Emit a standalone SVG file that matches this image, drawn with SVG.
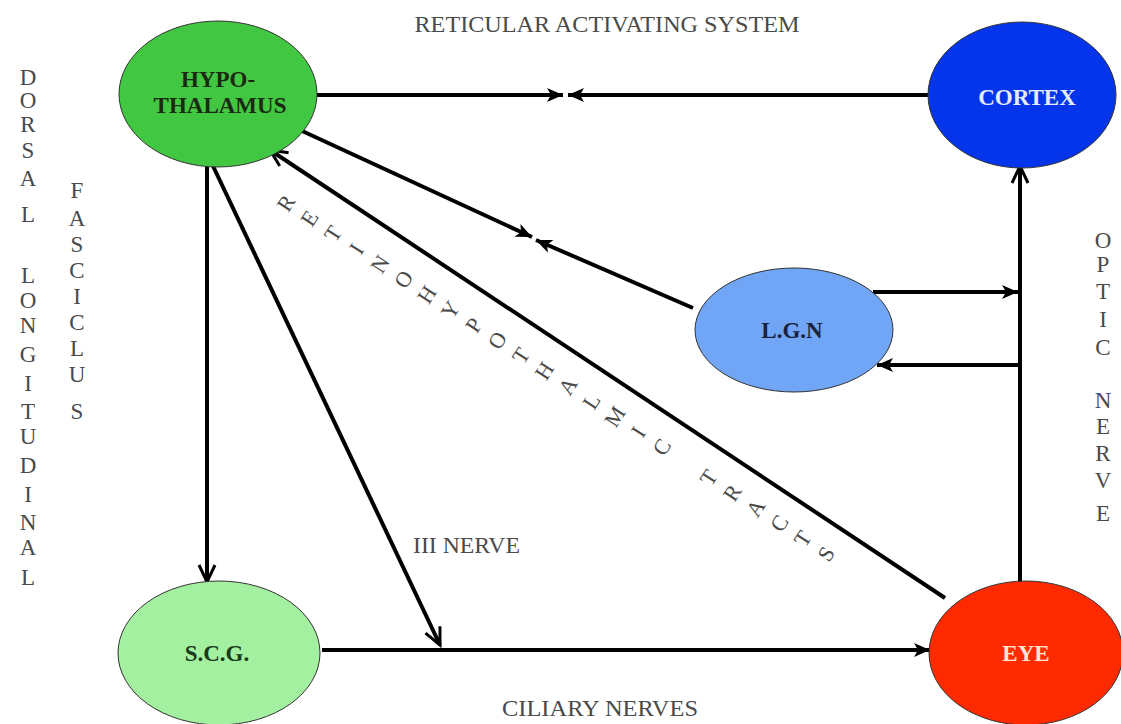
<svg xmlns="http://www.w3.org/2000/svg" width="1121" height="724" viewBox="0 0 1121 724">
<style>
.lbl{font-family:"Liberation Serif",serif;font-size:23px;fill:#4a4a4a;}
.node{font-family:"Liberation Serif",serif;font-size:23px;font-weight:bold;text-anchor:middle;}
.c{stroke:#000;stroke-width:4;fill:none;}
.ell{stroke:#333;stroke-width:1;}
</style>
<defs>
<marker id="fa" markerUnits="userSpaceOnUse" markerWidth="18" markerHeight="16" refX="16" refY="8" orient="auto">
<path d="M0,1 L16,8 L0,15 L4,8 z" fill="#000"/>
</marker>
<marker id="oa" markerUnits="userSpaceOnUse" markerWidth="22" markerHeight="20" refX="19" refY="10" orient="auto">
<path d="M2,2 L19,10 L2,18" fill="none" stroke="#000" stroke-width="3"/>
</marker>
</defs>
<rect width="1121" height="724" fill="#fff"/>

<g id="connectors">
<line class="c" x1="317" y1="95" x2="563" y2="95" marker-end="url(#fa)"/>
<line class="c" x1="928" y1="95" x2="568" y2="95" marker-end="url(#fa)"/>
<line class="c" x1="300" y1="130" x2="532" y2="237" marker-end="url(#fa)"/>
<line class="c" x1="693" y1="308" x2="536" y2="240" marker-end="url(#fa)"/>
<line class="c" x1="945" y1="598" x2="270" y2="150" marker-end="url(#oa)"/>
<line class="c" x1="207" y1="166" x2="207" y2="582" marker-end="url(#oa)"/>
<line class="c" x1="213" y1="166" x2="440" y2="645" marker-end="url(#oa)"/>
<line class="c" x1="322" y1="650" x2="930" y2="650" marker-end="url(#fa)"/>
<line class="c" x1="1020" y1="582" x2="1020" y2="166" marker-end="url(#oa)"/>
<line class="c" x1="873" y1="292" x2="1018" y2="292" marker-end="url(#fa)"/>
<line class="c" x1="1020" y1="365" x2="877" y2="365" marker-end="url(#fa)"/>
</g>

<g id="hypothalamus">
<ellipse class="ell" cx="218" cy="94" rx="99" ry="73" fill="#42c742"/>
<text class="node" x="218" y="87" fill="#1a2a10">HYPO-</text>
<text class="node" x="220" y="113" fill="#1a2a10">THALAMUS</text>
</g>
<g id="cortex">
<ellipse class="ell" cx="1022" cy="95" rx="94" ry="73" fill="#0535ea"/>
<text class="node" x="1027" y="105" fill="#e4ecff">CORTEX</text>
</g>
<g id="lgn">
<ellipse class="ell" cx="794" cy="330" rx="99" ry="62" fill="#70a6f5"/>
<text class="node" x="792" y="338" fill="#1a2240">L.G.N</text>
</g>
<g id="scg">
<ellipse class="ell" cx="219" cy="653" rx="101" ry="72" fill="#a3f0a0"/>
<text class="node" x="217" y="661" fill="#1a3a1a">S.C.G.</text>
</g>
<g id="eye">
<ellipse class="ell" cx="1026" cy="653" rx="97" ry="72" fill="#ff2a00"/>
<text class="node" x="1026" y="661" fill="#ffe4d8">EYE</text>
</g>

<g id="labels" class="lbl">
<text x="607" y="32" text-anchor="middle" textLength="385" lengthAdjust="spacingAndGlyphs">RETICULAR ACTIVATING SYSTEM</text>
<text x="600" y="716" text-anchor="middle" textLength="196" lengthAdjust="spacingAndGlyphs">CILIARY NERVES</text>
<text x="413" y="553" textLength="107" lengthAdjust="spacingAndGlyphs">III NERVE</text>
<g text-anchor="middle">
<text x="28" y="85">D</text><text x="28" y="108">O</text><text x="28" y="132">R</text><text x="28" y="158">S</text><text x="28" y="186">A</text><text x="28" y="222">L</text>
<text x="28" y="283">L</text><text x="28" y="308">O</text><text x="28" y="333">N</text><text x="28" y="362">G</text><text x="28" y="391">I</text><text x="28" y="419">T</text><text x="28" y="444">U</text><text x="28" y="473">D</text><text x="28" y="502">I</text><text x="28" y="530">N</text><text x="28" y="555">A</text><text x="28" y="585">L</text>
<text x="77" y="198">F</text><text x="77" y="226">A</text><text x="77" y="252">S</text><text x="77" y="278">C</text><text x="77" y="304">I</text><text x="77" y="330">C</text><text x="77" y="356">L</text><text x="77" y="382">U</text><text x="77" y="419">S</text>
<text x="1103" y="248">O</text><text x="1103" y="272">P</text><text x="1103" y="299">T</text><text x="1103" y="327">I</text><text x="1103" y="355">C</text>
<text x="1103" y="408">N</text><text x="1103" y="434">E</text><text x="1103" y="461">R</text><text x="1103" y="488">V</text><text x="1103" y="521">E</text>
</g>
<g transform="translate(286,203) rotate(-57)" text-anchor="middle" dominant-baseline="central" font-size="22">
<text x="0" y="0">R</text><text x="0" y="28">E</text><text x="0" y="56">T</text><text x="0" y="84">I</text><text x="0" y="112">N</text><text x="0" y="140">O</text><text x="0" y="168">H</text><text x="0" y="196">Y</text><text x="0" y="224">P</text><text x="0" y="252">O</text><text x="0" y="280">T</text><text x="0" y="308">H</text><text x="0" y="336">A</text><text x="0" y="364">L</text><text x="0" y="392">M</text><text x="0" y="420">I</text><text x="0" y="448">C</text>
<text x="0" y="504">T</text><text x="0" y="532">R</text><text x="0" y="560">A</text><text x="0" y="588">C</text><text x="0" y="616">T</text><text x="0" y="644">S</text>
</g>
</g>
</svg>
